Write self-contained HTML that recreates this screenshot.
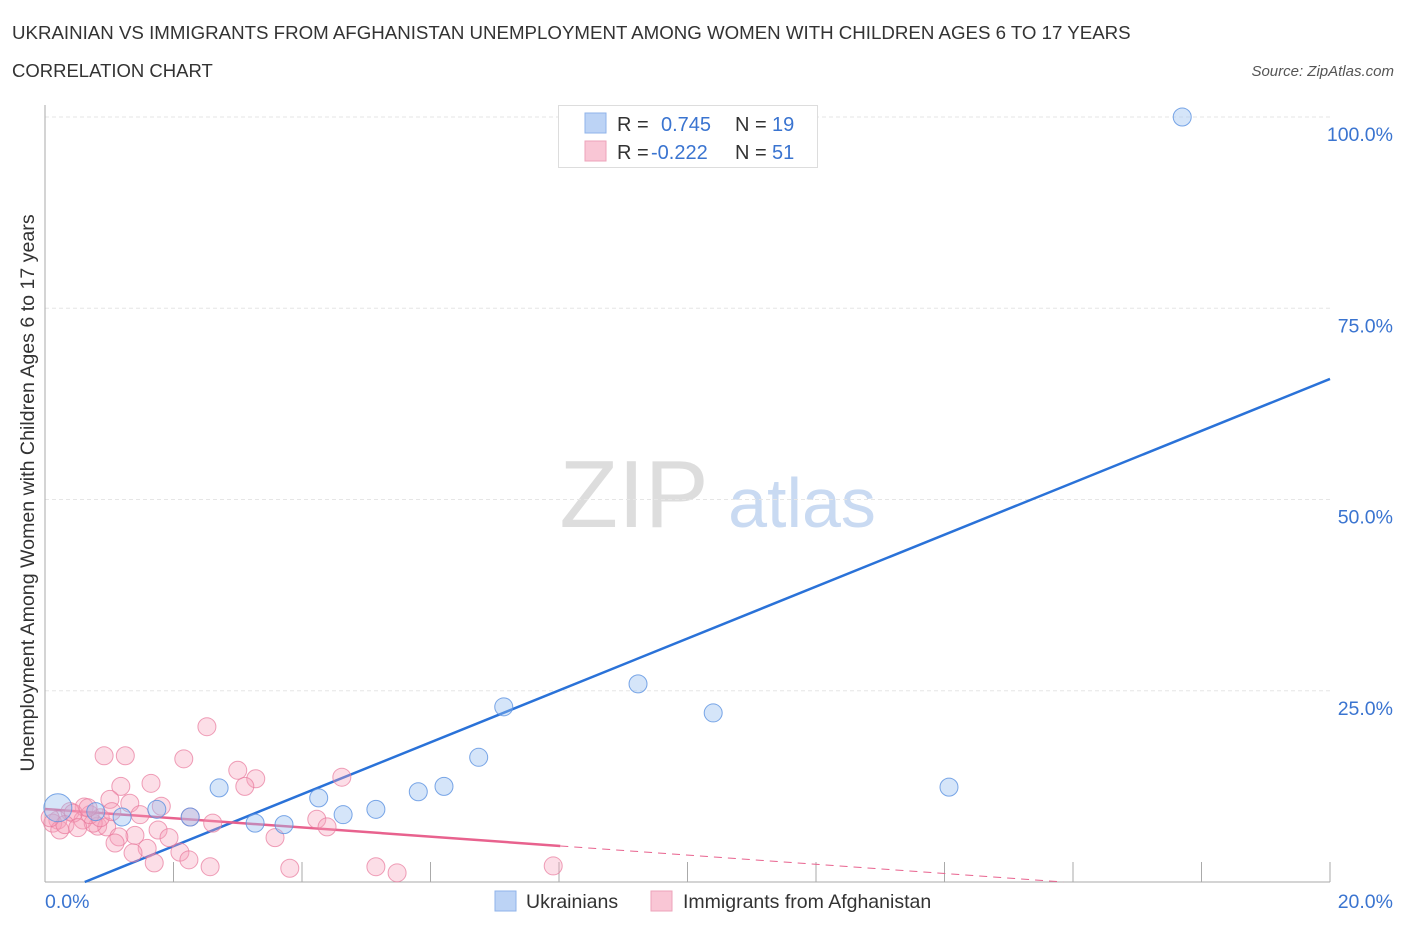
<!DOCTYPE html>
<html><head><meta charset="utf-8"><style>
body{margin:0;background:#fff;font-family:"Liberation Sans",sans-serif;}
svg text{font-family:"Liberation Sans",sans-serif;}
</style></head><body>
<svg id="chart" width="1406" height="930">
<text x="12" y="39" font-size="18.7" fill="#333">UKRAINIAN VS IMMIGRANTS FROM AFGHANISTAN UNEMPLOYMENT AMONG WOMEN WITH CHILDREN AGES 6 TO 17 YEARS</text>
<text x="12" y="77" font-size="18.5" fill="#333">CORRELATION CHART</text>
<text x="1394" y="76" font-size="15" fill="#555" font-style="italic" text-anchor="end">Source: ZipAtlas.com</text>
<text transform="translate(34,493) rotate(-90)" font-size="19.6" fill="#333" text-anchor="middle">Unemployment Among Women with Children Ages 6 to 17 years</text>
<g>
<text x="634" y="527" font-size="96" fill="#ddd" text-anchor="middle" font-family="Liberation Serif">ZIP</text>
<text x="802" y="527" font-size="70" fill="#c9daf2" text-anchor="middle">atlas</text>
</g>
<g id="grid"></g><g id="axes"></g><g id="lines"></g><g id="pts"></g>
<g>
<rect x="558.5" y="105.5" width="259" height="62" fill="#fff" stroke="#ddd"/>
<rect x="585" y="113" width="21" height="20" fill="#bcd3f5" stroke="#8fb3ea"/>
<rect x="585" y="141" width="21" height="20" fill="#f9c6d5" stroke="#eda3ba"/>
<text x="617" y="131" font-size="20" fill="#333">R =</text>
<text x="661" y="131" font-size="20" fill="#3a74d0">0.745</text>
<text x="735" y="131" font-size="20" fill="#333">N =</text>
<text x="772" y="131" font-size="20" fill="#3a74d0">19</text>
<text x="617" y="159" font-size="20" fill="#333">R =</text>
<text x="651" y="159" font-size="20" fill="#3a74d0">-0.222</text>
<text x="735" y="159" font-size="20" fill="#333">N =</text>
<text x="772" y="159" font-size="20" fill="#3a74d0">51</text>
</g>
<g>
<rect x="495" y="891" width="21" height="20" fill="#bcd3f5" stroke="#8fb3ea"/>
<text x="526" y="908" font-size="19.5" fill="#333">Ukrainians</text>
<rect x="651" y="891" width="21" height="20" fill="#f9c6d5" stroke="#eda3ba"/>
<text x="683" y="908" font-size="19.5" fill="#333">Immigrants from Afghanistan</text>
</g>
</svg>
<script>
const blueX=[0.20,0.79,1.20,1.74,2.26,2.71,3.27,3.72,4.26,4.64,5.15,5.81,6.21,6.75,7.14,9.23,10.40,14.07,17.70];
const blueY=[9.7,9.2,8.5,9.5,8.5,12.3,7.7,7.5,11.0,8.8,9.5,11.8,12.5,16.3,22.9,25.9,22.1,12.4,100.0];
const pinkX=[2.52,0.92,1.25,2.16,3.00,3.28,3.11,1.18,1.65,1.01,1.32,1.81,0.61,0.39,1.48,2.26,2.61,0.82,0.59,0.96,1.40,1.76,1.15,1.09,1.93,1.59,1.37,2.10,2.24,1.70,2.57,3.81,5.15,5.48,3.58,4.23,4.39,4.62,7.91,0.20,0.12,0.23,0.44,0.75,0.70,0.31,0.08,0.86,0.51,0.67,1.04];
const pinkY=[20.3,16.5,16.5,16.1,14.6,13.5,12.5,12.5,12.9,10.8,10.3,9.9,9.8,9.2,8.8,8.5,7.7,7.3,8.1,7.2,6.1,6.8,5.9,5.1,5.8,4.4,3.8,3.9,2.9,2.5,2.0,1.8,2.0,1.2,5.8,8.2,7.2,13.7,2.1,8.1,7.7,6.8,9.0,7.7,8.8,7.5,8.4,8.4,7.1,9.7,9.2];
const yTicks=[25,50,75,100];
const yTickLabels=["25.0%","50.0%","75.0%","100.0%"];
const xTicks=[2,4,6,8,10,12,14,16,18,20];
const blueFit=[-2.10,3.393];
const pinkFit=[9.54,-0.602];
const pinkSolidEnd=8.02;

const NS="http://www.w3.org/2000/svg";
const sx=v=>45+v*64.25, sy=v=>882-v*7.65;
function mk(p,t,a){const e=document.createElementNS(NS,t);for(const k in a)e.setAttribute(k,a[k]);document.getElementById(p).appendChild(e);return e;}
yTicks.forEach((t,i)=>{
 const g=mk('grid','line',{x1:45,x2:1330,y1:sy(t),y2:sy(t),stroke:'#e6e6e6','stroke-dasharray':'4,3'});
 
 
 const l=mk('grid','text',{x:1393,y:sy(t)+24,'font-size':19.5,fill:'#3a74d0','text-anchor':'end'});
 l.textContent=yTickLabels[i];
 
 
});
let a=mk('axes','line',{x1:45,x2:45,y1:105,y2:882,stroke:'#aaa'});


a=mk('axes','line',{x1:45,x2:1330,y1:882,y2:882,stroke:'#aaa'});


xTicks.forEach(t=>{const k=mk('axes','line',{x1:sx(t),x2:sx(t),y1:862,y2:882,stroke:'#aaa'});
 
 });
let tl=mk('axes','text',{x:45,y:908,'font-size':19.5,fill:'#3a74d0'});tl.textContent='0.0%';


tl=mk('axes','text',{x:1393,y:908,'font-size':19.5,fill:'#3a74d0','text-anchor':'end'});tl.textContent='20.0%';


pinkX.forEach((x,i)=>{const c=mk('pts','circle',{cx:sx(x),cy:sy(pinkY[i]),r:9,fill:'rgba(245,160,185,0.35)',stroke:'rgba(232,120,155,0.7)'});
 
 });
blueX.forEach((x,i)=>{const c=mk('pts','circle',{cx:sx(x),cy:sy(blueY[i]),r:i==0?14:9,fill:'rgba(150,190,240,0.4)',stroke:'rgba(90,145,225,0.8)'});
 
 });
const bx0=-blueFit[0]/blueFit[1];
let ln=mk('lines','line',{x1:sx(bx0),y1:sy(0),x2:sx(20),y2:sy(blueFit[0]+blueFit[1]*20),stroke:'#2a72d8','stroke-width':2.5});


ln=mk('lines','line',{x1:sx(0),y1:sy(pinkFit[0]),x2:sx(pinkSolidEnd),y2:sy(pinkFit[0]+pinkFit[1]*pinkSolidEnd),stroke:'#e8628e','stroke-width':2.5});


const px0=-pinkFit[0]/pinkFit[1];
ln=mk('lines','line',{x1:sx(pinkSolidEnd),y1:sy(pinkFit[0]+pinkFit[1]*pinkSolidEnd),x2:sx(px0),y2:sy(0),stroke:'#e8628e','stroke-width':1,'stroke-dasharray':'8,6'});


</script>
</body></html>
